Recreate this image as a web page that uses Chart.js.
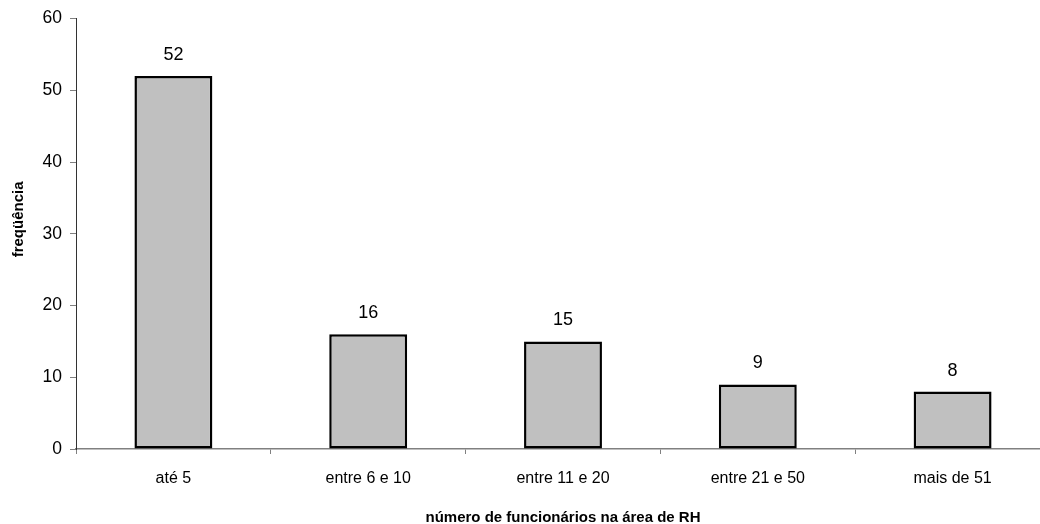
<!DOCTYPE html>
<html>
<head>
<meta charset="utf-8">
<script src="https://cdn.jsdelivr.net/npm/chart.js@4/dist/chart.umd.min.js"></script>
<style>
  html, body { margin: 0; padding: 0; background: #fff; overflow: hidden; }
  #wrap { width: 1050px; height: 524px; }
</style>
</head>
<body>
<div id="wrap"><canvas id="chart"></canvas></div>
<script>
// Data
const categories = ['até 5', 'entre 6 e 10', 'entre 11 e 20', 'entre 21 e 50', 'mais de 51'];
const frequencies = [52, 16, 15, 9, 8];
const yTicks = [0, 10, 20, 30, 40, 50, 60];
const yTitle = 'freqüência';

// Colours
const BAR_FILL = '#c0c0c0';
const BAR_EDGE = '#000000';
const AXIS_GREY = '#808080';

// Draws the value above each bar
const valueLabels = {
    id: 'valueLabels',
    afterDatasetsDraw(chart) {
        const ctx = chart.ctx;
        const meta = chart.getDatasetMeta(0);
        ctx.save();
        ctx.fillStyle = '#000';
        ctx.font = '18px "Liberation Sans", Arial, sans-serif';
        ctx.textAlign = 'center';
        ctx.textBaseline = 'alphabetic';
        meta.data.forEach((bar, i) => {
            ctx.fillText(String(frequencies[i]), bar.x, bar.y - 16);
        });
        ctx.restore();
    }
};

// Rotated y-axis title, sitting a little above the middle of the axis
const yAxisTitle = {
    id: 'yAxisTitle',
    afterDraw(chart) {
        const ctx = chart.ctx;
        const y = chart.scales.y;
        ctx.save();
        ctx.translate(19, y.getPixelForValue(32));
        ctx.rotate(-Math.PI / 2);
        ctx.fillStyle = '#000';
        ctx.font = 'bold 15px "Liberation Sans", Arial, sans-serif';
        ctx.textAlign = 'center';
        ctx.textBaseline = 'middle';
        ctx.fillText(yTitle, 0, 0);
        ctx.restore();
    }
};

new Chart(document.getElementById('chart'), {
    type: 'bar',
    data: {
        labels: categories,
        datasets: [{
            data: frequencies,
            backgroundColor: BAR_FILL,
            borderColor: BAR_EDGE,
            borderWidth: 2.5,
            borderSkipped: false,
            barPercentage: 0.4,
            categoryPercentage: 1
        }]
    },
    options: {
        responsive: true,
        maintainAspectRatio: false,
        animation: false,
        layout: { padding: { top: 17, right: 0, left: 0, bottom: 0 } },
        plugins: {
            legend: { display: false },
            tooltip: { enabled: false }
        },
        scales: {
            x: {
                grid: {
                    offset: true,
                    drawOnChartArea: false,
                    color: AXIS_GREY,
                    tickLength: 5
                },
                border: { color: AXIS_GREY, width: 1.5 },
                ticks: {
                    color: '#000',
                    padding: 15,
                    font: { family: '"Liberation Sans", Arial', size: 16 }
                },
                title: {
                    display: true,
                    text: 'número de funcionários na área de RH',
                    color: '#000',
                    font: { family: '"Liberation Sans", Arial', size: 15, weight: 'bold' },
                    padding: { top: 10, bottom: -3 }
                },
                afterFit(scale) { scale.height = 75; }
            },
            y: {
                min: 0,
                max: 60,
                afterBuildTicks(scale) {
                    scale.ticks = yTicks.map(v => ({ value: v }));
                },
                grid: {
                    drawOnChartArea: false,
                    color: AXIS_GREY,
                    tickLength: 6
                },
                border: { color: '#333', width: 1 },
                ticks: {
                    color: '#000',
                    padding: 8,
                    font: { family: '"Liberation Sans", Arial', size: 17.5 }
                },
                afterFit(scale) { scale.width = 76; }
            }
        }
    },
    plugins: [valueLabels, yAxisTitle]
});
</script>
</body>
</html>
